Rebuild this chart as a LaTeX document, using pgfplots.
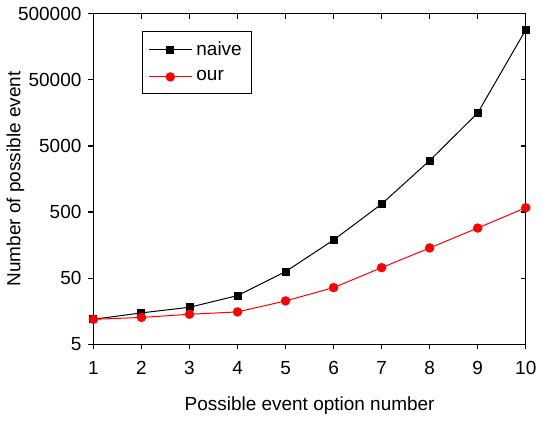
\documentclass[border=0pt]{standalone}
\usepackage{pgfplots}
\pgfplotsset{compat=1.18}
\usepackage{fontspec}
\setmainfont{Liberation Sans}

\begin{document}
\begin{tikzpicture}
    % mirror ticks (top/right, pointing in)
    \begin{axis}[
            width=216.5pt, height=165.5pt,
            scale only axis,
            xmin=1, xmax=10,
            ymode=log, ymin=5, ymax=500000,
            xtick={1,...,10},
            ytick={5,50,500,5000,50000,500000},
            minor tick style={draw=none},
            major tick length=2.5pt,
            axis line style={line width=0.6pt},
            major tick style={black, line width=0.6pt},
            tick align=inside,
            xtick pos=right, ytick pos=right,
            xticklabels={}, yticklabels={},
        ]
        \addplot[draw=none] coordinates {(1,10)};
    \end{axis}
    \begin{axis}[
            width=216.5pt, height=165.5pt,
            scale only axis,
            xmin=1, xmax=10,
            ymode=log, ymin=5, ymax=500000,
            xtick={1,...,10},
            ytick={5,50,500,5000,50000,500000},
            minor tick style={draw=none},
            major tick length=2.5pt,
            axis line style={line width=0.6pt},
            major tick style={black, line width=0.6pt},
            tick align=outside,
            xtick pos=left, ytick pos=left,
            yticklabels={5,50,500,5000,50000,500000},
            /pgf/number format/assume math mode=true,
            tick label style={font=\fontsize{9.5}{11}\selectfont},
            xticklabel style={yshift=-2.5pt},
            label style={font=\fontsize{9.5}{11}\selectfont},
            xlabel={Possible event option number},
            ylabel={Number of possible event},
            xlabel style={yshift=-4pt},
            ylabel style={yshift=-10pt},
            legend style={
                    at={(0.112,0.947)}, anchor=north west,
                    font=\fontsize{9.5}{11}\selectfont,
                    draw=black, line width=0.4pt,
                    inner xsep=3pt, inner ysep=3pt,
                    row sep=2pt,
                },
            legend cell align=left,
            legend image code/.code={
                    \draw[#1] (0cm,0cm) -- (0.38cm,0cm);
                    \draw[#1] plot coordinates {(0.38cm,0cm)};
                    \draw[#1] (0.38cm,0cm) -- (0.76cm,0cm);
                },
        ]
        % naive
        \addplot[black, line width=0.5pt, mark=square*, mark size=1.75pt] coordinates {
                (1, 11.9) (2, 14.9) (3, 18.1) (4, 27.2) (5, 62.7)
                (6, 189) (7, 661) (8, 3006) (9, 15800) (10, 286000)
            };
        % our
        \addplot[red, line width=0.5pt, mark=*, mark size=2.1pt] coordinates {
                (1, 11.9) (2, 12.7) (3, 14.2) (4, 15.4) (5, 22.6)
                (6, 35.9) (7, 72) (8, 143) (9, 286) (10, 581)
            };
        \legend{naive, our}
    \end{axis}
\end{tikzpicture}
\end{document}
